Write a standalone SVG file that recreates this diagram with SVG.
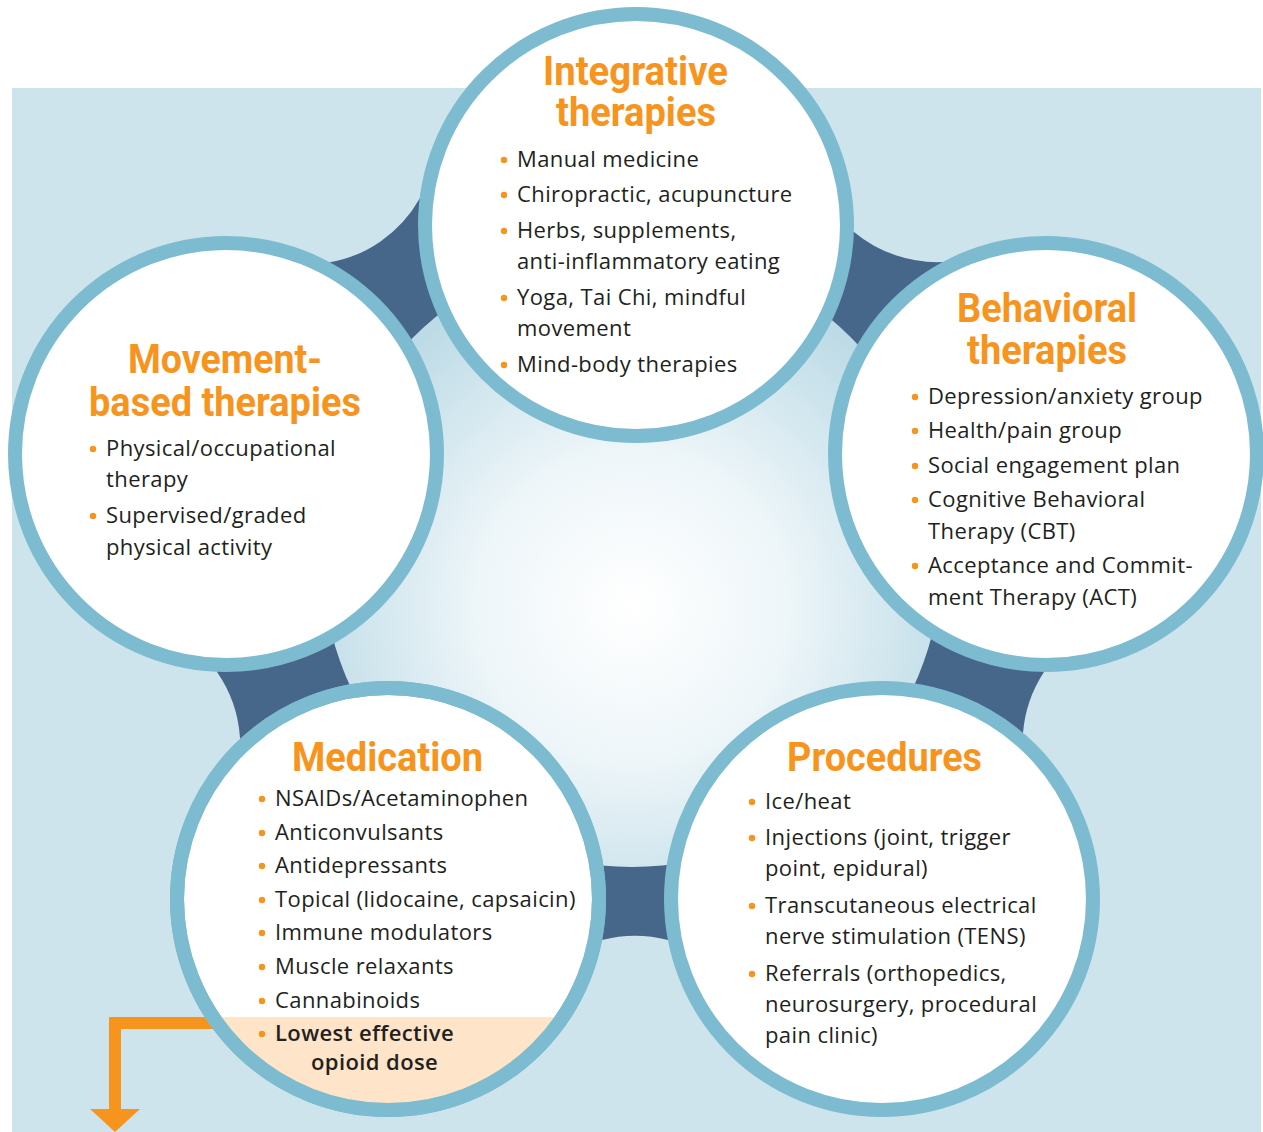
<svg xmlns="http://www.w3.org/2000/svg" width="1263" height="1132" viewBox="0 0 1263 1132">
<defs>
<style>
.ring{fill:#ffffff;stroke:#7dbbd0;stroke-width:14}
.title{font-family:Roboto,"Liberation Sans",sans-serif;font-weight:700;font-size:40px;fill:#f7941d}
.item{font-family:"Open Sans","Liberation Sans",sans-serif;font-size:22px;letter-spacing:0.4px;fill:#231f20}
.bold{font-weight:600}
.dot{fill:#f7941d}
.gap{fill:#46678a}
</style>
<radialGradient id="glow" cx="50%" cy="58%" r="55%">
<stop offset="0" stop-color="#ffffff"/>
<stop offset="0.45" stop-color="#eef6f9"/>
<stop offset="1" stop-color="#bddbe6"/>
</radialGradient>
<clipPath id="medClip"><circle cx="388" cy="899" r="211"/></clipPath>
</defs>
<rect x="12" y="88" width="1249" height="1044" fill="#cde4ec"/>
<g id="connectors">
<path class="gap" d="M420,198 A130,130 0 0 1 326,263 L226,454 L632,557 L636,225 Z"/>
<path class="gap" d="M854,232 A130,130 0 0 0 943,262 L1046,454 L632,557 L636,225 Z"/>
<path class="gap" d="M217,672 A130,130 0 0 1 240,738 L388,899 L632,557 L226,454 Z"/>
<path class="gap" d="M1044,672 A130,130 0 0 0 1023,733 L882,899 L632,557 L1046,454 Z"/>
<path class="gap" d="M602,940 A130,130 0 0 1 668,940 L882,899 L632,557 L388,899 Z"/>
<circle cx="632" cy="557" r="310" fill="url(#glow)"/>
<path d="M115,1017 V1110 M109,1023 H215" fill="none" stroke="#f7941d" stroke-width="12"/>
<polygon points="90,1109 140,1109 115,1132" fill="#f7941d"/>
</g>
<g id="integrative">
<circle class="ring" cx="636" cy="225" r="211"/>
<text class="title" x="543" y="85" textLength="185" lengthAdjust="spacingAndGlyphs">Integrative</text>
<text class="title" x="556" y="126" textLength="160" lengthAdjust="spacingAndGlyphs">therapies</text>
<circle class="dot" cx="504" cy="160" r="3.2"/>
<text class="item" x="517" y="167">Manual medicine</text>
<circle class="dot" cx="504" cy="195" r="3.2"/>
<text class="item" x="517" y="202">Chiropractic, acupuncture</text>
<circle class="dot" cx="504" cy="231" r="3.2"/>
<text class="item" x="517" y="238">Herbs, supplements,</text>
<text class="item" x="517" y="269">anti-inflammatory eating</text>
<circle class="dot" cx="504" cy="298" r="3.2"/>
<text class="item" x="517" y="305">Yoga, Tai Chi, mindful</text>
<text class="item" x="517" y="336">movement</text>
<circle class="dot" cx="504" cy="365" r="3.2"/>
<text class="item" x="517" y="372">Mind-body therapies</text>
</g>
<g id="behavioral">
<circle class="ring" cx="1046" cy="454" r="211"/>
<text class="title" x="957" y="322" textLength="180" lengthAdjust="spacingAndGlyphs">Behavioral</text>
<text class="title" x="967" y="364" textLength="160" lengthAdjust="spacingAndGlyphs">therapies</text>
<circle class="dot" cx="915" cy="397" r="3.2"/>
<text class="item" x="928" y="404">Depression/anxiety group</text>
<circle class="dot" cx="915" cy="431" r="3.2"/>
<text class="item" x="928" y="438">Health/pain group</text>
<circle class="dot" cx="915" cy="466" r="3.2"/>
<text class="item" x="928" y="473">Social engagement plan</text>
<circle class="dot" cx="915" cy="500" r="3.2"/>
<text class="item" x="928" y="507">Cognitive Behavioral</text>
<text class="item" x="928" y="539">Therapy (CBT)</text>
<circle class="dot" cx="915" cy="566" r="3.2"/>
<text class="item" x="928" y="573">Acceptance and Commit-</text>
<text class="item" x="928" y="605">ment Therapy (ACT)</text>
</g>
<g id="movement">
<circle class="ring" cx="226" cy="454" r="211"/>
<text class="title" x="128" y="373" textLength="194" lengthAdjust="spacingAndGlyphs">Movement-</text>
<text class="title" x="89" y="416" textLength="272" lengthAdjust="spacingAndGlyphs">based therapies</text>
<circle class="dot" cx="93" cy="449" r="3.2"/>
<text class="item" x="106" y="456">Physical/occupational</text>
<text class="item" x="106" y="487">therapy</text>
<circle class="dot" cx="93" cy="516" r="3.2"/>
<text class="item" x="106" y="523">Supervised/graded</text>
<text class="item" x="106" y="555">physical activity</text>
</g>
<g id="medication">
<circle class="ring" cx="388" cy="899" r="211" stroke="none"/>
<rect x="170" y="1017" width="440" height="110" fill="#fee4c8" clip-path="url(#medClip)"/>
<circle cx="388" cy="899" r="211" fill="none" stroke="#7dbbd0" stroke-width="14"/>
<text class="title" x="292" y="771" textLength="191" lengthAdjust="spacingAndGlyphs">Medication</text>
<circle class="dot" cx="262" cy="799" r="3.2"/>
<text class="item" x="275" y="806">NSAIDs/Acetaminophen</text>
<circle class="dot" cx="262" cy="833" r="3.2"/>
<text class="item" x="275" y="840">Anticonvulsants</text>
<circle class="dot" cx="262" cy="866" r="3.2"/>
<text class="item" x="275" y="873">Antidepressants</text>
<circle class="dot" cx="262" cy="900" r="3.2"/>
<text class="item" x="275" y="907">Topical (lidocaine, capsaicin)</text>
<circle class="dot" cx="262" cy="933" r="3.2"/>
<text class="item" x="275" y="940">Immune modulators</text>
<circle class="dot" cx="262" cy="967" r="3.2"/>
<text class="item" x="275" y="974">Muscle relaxants</text>
<circle class="dot" cx="262" cy="1001" r="3.2"/>
<text class="item" x="275" y="1008">Cannabinoids</text>
<circle class="dot" cx="262" cy="1034" r="3.2"/>
<text class="item bold" x="275" y="1041">Lowest effective</text>
<text class="item bold" x="311" y="1070">opioid dose</text>
</g>
<g id="procedures">
<circle class="ring" cx="882" cy="899" r="211"/>
<text class="title" x="787" y="771" textLength="195" lengthAdjust="spacingAndGlyphs">Procedures</text>
<circle class="dot" cx="752" cy="802" r="3.2"/>
<text class="item" x="765" y="809">Ice/heat</text>
<circle class="dot" cx="752" cy="838" r="3.2"/>
<text class="item" x="765" y="845">Injections (joint, trigger</text>
<text class="item" x="765" y="876">point, epidural)</text>
<circle class="dot" cx="752" cy="906" r="3.2"/>
<text class="item" x="765" y="913">Transcutaneous electrical</text>
<text class="item" x="765" y="944">nerve stimulation (TENS)</text>
<circle class="dot" cx="752" cy="974" r="3.2"/>
<text class="item" x="765" y="981">Referrals (orthopedics,</text>
<text class="item" x="765" y="1012">neurosurgery, procedural</text>
<text class="item" x="765" y="1043">pain clinic)</text>
</g>
</svg>
